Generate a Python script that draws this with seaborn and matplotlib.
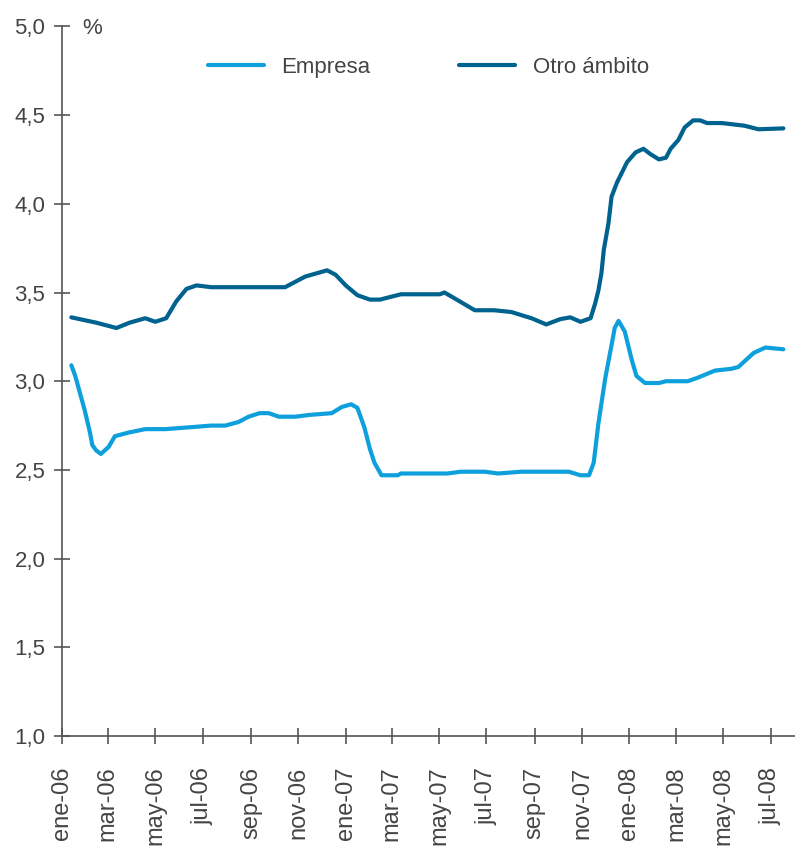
import pandas as pd
import numpy as np
import matplotlib
matplotlib.use('Agg')
import matplotlib.pyplot as plt
import matplotlib.dates as mdates
import seaborn as sns

# Datos (tipo medio, %)
fechas_empresa = ['2006-01-13', '2006-01-18', '2006-01-30', '2006-02-06', '2006-02-09', '2006-02-14',
                  '2006-02-20', '2006-03-02', '2006-03-10', '2006-03-27', '2006-04-18', '2006-05-14',
                  '2006-06-13', '2006-07-12', '2006-07-30', '2006-08-16', '2006-08-29', '2006-09-12',
                  '2006-09-24', '2006-10-07', '2006-10-28', '2006-11-15', '2006-12-14', '2006-12-27',
                  '2007-01-08', '2007-01-16', '2007-01-25', '2007-02-01', '2007-02-07', '2007-02-16',
                  '2007-03-09', '2007-03-13', '2007-05-12', '2007-05-29', '2007-06-29', '2007-07-16',
                  '2007-08-15', '2007-10-15', '2007-10-30', '2007-11-10', '2007-11-16', '2007-11-22',
                  '2007-12-01', '2007-12-11', '2007-12-13', '2007-12-18', '2007-12-26', '2008-01-04',
                  '2008-01-10', '2008-01-21', '2008-02-08', '2008-02-17', '2008-03-16', '2008-03-29',
                  '2008-04-20', '2008-05-11', '2008-05-20', '2008-06-09', '2008-06-24', '2008-07-17']
empresa = [3.09, 3.03, 2.84, 2.71, 2.64, 2.61,
           2.59, 2.63, 2.69, 2.71, 2.73, 2.73,
           2.74, 2.75, 2.75, 2.77, 2.80, 2.82,
           2.82, 2.80, 2.80, 2.81, 2.82, 2.855,
           2.87, 2.85, 2.74, 2.62, 2.54, 2.47,
           2.47, 2.48, 2.48, 2.49, 2.49, 2.48,
           2.49, 2.49, 2.47, 2.47, 2.54, 2.76,
           3.02, 3.25, 3.30, 3.34, 3.28, 3.12,
           3.03, 2.99, 2.99, 3.00, 3.00, 3.02,
           3.06, 3.07, 3.08, 3.16, 3.19, 3.18]

fechas_otro = ['2006-01-13', '2006-02-14', '2006-03-12', '2006-03-29', '2006-04-18', '2006-05-01',
               '2006-05-15', '2006-05-28', '2006-06-10', '2006-06-23', '2006-07-12', '2006-10-15',
               '2006-10-28', '2006-11-10', '2006-12-08', '2006-12-19', '2007-01-01', '2007-01-16',
               '2007-02-01', '2007-02-14', '2007-03-13', '2007-05-02', '2007-05-08', '2007-05-16',
               '2007-06-16', '2007-07-11', '2007-08-02', '2007-08-28', '2007-09-16', '2007-10-04',
               '2007-10-17', '2007-10-30', '2007-11-12', '2007-11-18', '2007-11-22', '2007-11-26',
               '2007-11-29', '2007-12-05', '2007-12-09', '2007-12-16', '2007-12-29', '2008-01-09',
               '2008-01-19', '2008-01-28', '2008-02-08', '2008-02-17', '2008-02-23', '2008-03-04',
               '2008-03-12', '2008-03-23', '2008-04-01', '2008-04-10', '2008-04-29', '2008-05-28',
               '2008-06-15', '2008-07-17']
otro = [3.36, 3.33, 3.30, 3.33, 3.355, 3.335,
        3.355, 3.45, 3.52, 3.54, 3.53, 3.53,
        3.56, 3.59, 3.625, 3.60, 3.54, 3.485,
        3.46, 3.46, 3.49, 3.49, 3.50, 3.48,
        3.40, 3.40, 3.39, 3.355, 3.32, 3.35,
        3.36, 3.335, 3.355, 3.44, 3.51, 3.61,
        3.74, 3.89, 4.04, 4.12, 4.235, 4.29,
        4.31, 4.28, 4.25, 4.26, 4.31, 4.36,
        4.43, 4.47, 4.47, 4.455, 4.455, 4.44,
        4.42, 4.425]

etiquetas_x = ['ene-06', 'mar-06', 'may-06', 'jul-06', 'sep-06', 'nov-06', 'ene-07', 'mar-07',
               'may-07', 'jul-07', 'sep-07', 'nov-07', 'ene-08', 'mar-08', 'may-08', 'jul-08']
valores_y = [1.0, 1.5, 2.0, 2.5, 3.0, 3.5, 4.0, 4.5, 5.0]
etiquetas_y = ['1,0', '1,5', '2,0', '2,5', '3,0', '3,5', '4,0', '4,5', '5,0']

df = pd.concat([
    pd.DataFrame({'fecha': pd.to_datetime(fechas_empresa), 'valor': empresa, 'serie': 'Empresa'}),
    pd.DataFrame({'fecha': pd.to_datetime(fechas_otro), 'valor': otro, 'serie': 'Otro ámbito'}),
])

sns.set_style('white')
plt.rcParams['font.family'] = ['Liberation Sans', 'DejaVu Sans']
gris = '#555555'
texto = '#444444'

fig = plt.figure(figsize=(7.95, 8.5), dpi=100)
ax = fig.add_axes([0.078, 0.134, 0.922, 0.835])

sns.lineplot(data=df, x='fecha', y='valor', hue='serie', estimator=None, sort=False,
             palette={'Empresa': '#0EA0DC', 'Otro ámbito': '#00628E'}, linewidth=3, ax=ax)

ax.set_ylim(1.0, 5.0)
ax.set_xlim(pd.Timestamp('2006-01-01'), pd.Timestamp('2008-08-01'))
ax.set_yticks(valores_y)
ax.set_yticklabels(etiquetas_y)
ticks_x = pd.date_range('2006-01-01', periods=len(etiquetas_x), freq='2MS')
ax.set_xticks(mdates.date2num(ticks_x))
ax.set_xticklabels(etiquetas_x, rotation=90)
ax.set_xlabel('')
ax.set_ylabel('')

for s in ['top', 'right']:
    ax.spines[s].set_visible(False)
for s in ['left', 'bottom']:
    ax.spines[s].set_color(gris)
    ax.spines[s].set_linewidth(1.2)
ax.tick_params(axis='both', direction='inout', length=12, width=1.2, color=gris,
               labelcolor=texto, bottom=True, left=True)
ax.tick_params(axis='y', pad=6, labelsize=16)
ax.tick_params(axis='x', pad=16, labelsize=17)

ax.text(0.027, 0.997, '%', transform=ax.transAxes, fontsize=16, color=texto, va='center', ha='left')

ax.legend(loc='upper center', bbox_to_anchor=(0.5, 0.985), ncol=2, frameon=False, fontsize=16,
          handlelength=2.5, columnspacing=4, handletextpad=0.8, labelcolor=texto)

fig.savefig('out.png', dpi=100)
